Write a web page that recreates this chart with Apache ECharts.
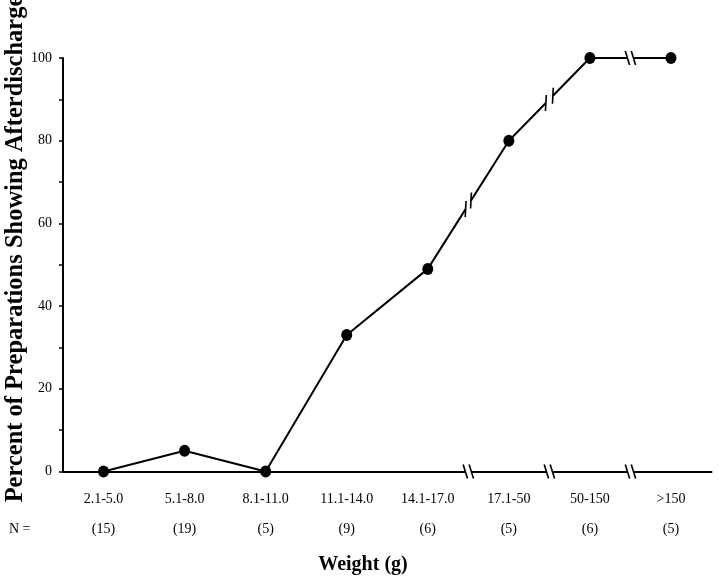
<!DOCTYPE html>
<html>
<head>
<meta charset="utf-8">
<script src="https://cdn.jsdelivr.net/npm/echarts@6/dist/echarts.min.js"></script>
<style>
  html, body { margin: 0; padding: 0; background: #fff; }
  #chart { width: 720px; height: 584px; }
</style>
</head>
<body>
<div id="chart"></div>
<script>
// weight classes, number of preparations, percent showing afterdischarge
const weightClasses = ['2.1-5.0', '5.1-8.0', '8.1-11.0', '11.1-14.0', '14.1-17.0', '17.1-50', '50-150', '>150']
const nCounts = [15, 19, 5, 9, 6, 5, 6, 5]
const percents = [0, 5, 0, 33, 49, 80, 100, 100]
const yTicks = [0, 20, 40, 60, 80, 100]

// scale breaks: index of the category where the broken segment starts
const lineBreaks = [4, 5, 6]
const axisBreaks = [4, 5, 6]

const serif = 'Liberation Serif'
const chart = echarts.init(document.getElementById('chart'))

// draws a "//" break mark in the middle of a segment
function breakMark (p0, p1, lean, gap, h) {
  const mx = (p0[0] + p1[0]) / 2
  const my = (p0[1] + p1[1]) / 2
  const dx = p1[0] - p0[0]
  const dy = p1[1] - p0[1]
  const len = Math.sqrt(dx * dx + dy * dy)
  const ux = dx / len
  const uy = dy / len
  const a = h * Math.tan(lean)
  const strokes = [-1, 1].map(s => {
    const cx = mx + s * gap * ux
    const cy = my + s * gap * uy
    return {
      type: 'line',
      shape: { x1: cx - a, y1: cy + h, x2: cx + a, y2: cy - h },
      style: { stroke: '#000', lineWidth: 1.6 }
    }
  })
  return {
    type: 'group',
    children: [{
      type: 'line',
      shape: { x1: mx - gap * ux, y1: my - gap * uy, x2: mx + gap * ux, y2: my + gap * uy },
      style: { stroke: '#fff', lineWidth: 5 }
    }].concat(strokes)
  }
}

const option = {
  backgroundColor: '#fff',
  animation: false,
  grid: {
    left: 63,
    right: 8.5,
    top: 58,
    bottom: 112.5
  },
  xAxis: {
    type: 'category',
    data: weightClasses,
    boundaryGap: true,
    axisLine: { lineStyle: { color: '#000', width: 2 } },
    axisTick: { alignWithLabel: true, length: 5, lineStyle: { color: '#000', width: 1.5 } },
    axisLabel: {
      margin: 13,
      interval: 0,
      formatter: (value, idx) => '{a|' + value + '}\n{b|(' + nCounts[idx] + ')}',
      rich: {
        a: { fontFamily: serif, fontSize: 14, color: '#000', lineHeight: 30 },
        b: { fontFamily: serif, fontSize: 14, color: '#000', lineHeight: 30 }
      }
    },
    splitLine: { show: false }
  },
  yAxis: {
    type: 'value',
    min: 0,
    max: 100,
    interval: 10,
    axisLine: { show: true, lineStyle: { color: '#000', width: 2 } },
    axisTick: { show: true, length: 4, lineStyle: { color: '#000', width: 1.5 } },
    axisLabel: {
      margin: 11,
      fontFamily: serif,
      fontSize: 14,
      color: '#000',
      formatter: v => yTicks.indexOf(v) >= 0 ? String(v) : ''
    },
    splitLine: { show: false }
  },
  graphic: [
    {
      type: 'text',
      x: 16,
      y: 249,
      rotation: Math.PI / 2,
      style: {
        text: 'Percent of Preparations Showing Afterdischarge',
        fontFamily: serif,
        fontWeight: 'bold',
        fontSize: 24.5,
        fill: '#000',
        align: 'center',
        verticalAlign: 'middle'
      }
    },
    {
      type: 'text',
      x: 363,
      y: 565,
      style: {
        text: 'Weight (g)',
        fontFamily: serif,
        fontWeight: 'bold',
        fontSize: 20,
        fill: '#000',
        align: 'center',
        verticalAlign: 'middle'
      }
    },
    {
      type: 'text',
      x: 9,
      y: 529,
      style: {
        text: 'N =',
        fontFamily: serif,
        fontSize: 14,
        fill: '#000',
        align: 'left',
        verticalAlign: 'middle'
      }
    }
  ],
  series: [
    {
      type: 'line',
      data: percents,
      symbol: 'circle',
      symbolSize: [11, 12],
      lineStyle: { color: '#000', width: 2 },
      itemStyle: { color: '#000' },
      z: 3
    },
    {
      // breaks on the x axis
      type: 'custom',
      data: axisBreaks.map(i => [i, 0]),
      z: 4,
      renderItem: (params, api) => {
        const i = axisBreaks[params.dataIndex]
        return breakMark(api.coord([i, 0]), api.coord([i + 1, 0]), -0.3, 3, 7)
      }
    },
    {
      // breaks on the data line
      type: 'custom',
      data: lineBreaks.map(i => [i, percents[i]]),
      z: 4,
      renderItem: (params, api) => {
        const i = lineBreaks[params.dataIndex]
        const flat = percents[i] === percents[i + 1]
        const p0 = api.coord([i, percents[i]])
        const p1 = api.coord([i + 1, percents[i + 1]])
        return flat ? breakMark(p0, p1, -0.3, 3, 7) : breakMark(p0, p1, 0.05, 5, 8)
      }
    }
  ]
}

chart.setOption(option)
</script>
</body>
</html>
